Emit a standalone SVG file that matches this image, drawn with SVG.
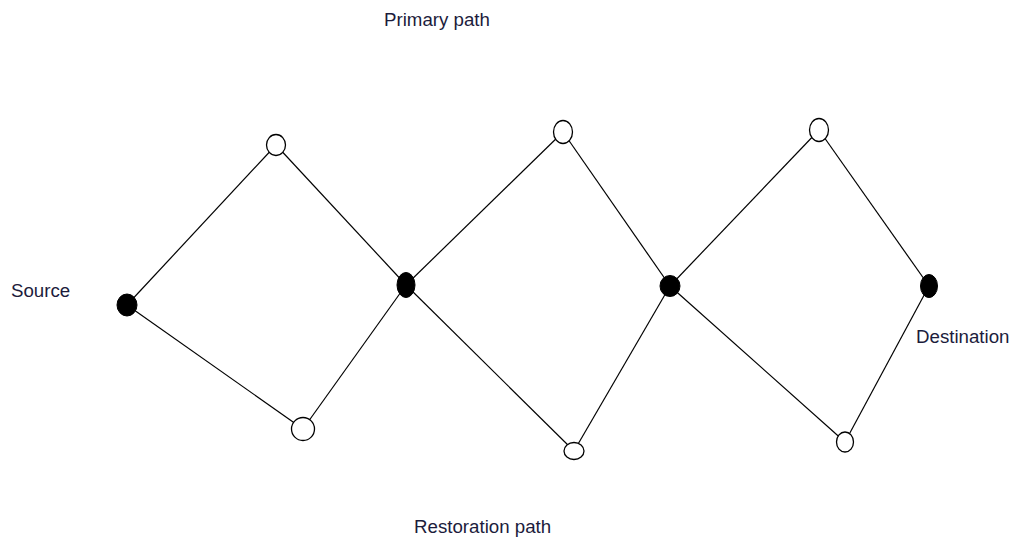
<svg xmlns="http://www.w3.org/2000/svg" width="1012" height="540" viewBox="0 0 1012 540">
  <style>
    .edge { stroke: #000; stroke-width: 1.2; fill: none; }
    .open { fill: #fff; stroke: #000; stroke-width: 1.3; }
    .solid { fill: #000; stroke: #000; stroke-width: 1; }
    .label { font-family: "Liberation Sans", Arial, sans-serif; font-size: 18.7px; fill: #1c1c3c; }
  </style>
  <rect width="1012" height="540" fill="#fff"/>

  <!-- connectors -->
  <g id="connectors">
    <line class="edge" x1="127" y1="305" x2="276" y2="145"/>
    <line class="edge" x1="276" y1="145" x2="406" y2="285"/>
    <line class="edge" x1="127" y1="305" x2="303" y2="429"/>
    <line class="edge" x1="303" y1="429" x2="406" y2="285"/>
    <line class="edge" x1="406" y1="285" x2="563" y2="132"/>
    <line class="edge" x1="563" y1="132" x2="670" y2="286"/>
    <line class="edge" x1="406" y1="285" x2="574" y2="451"/>
    <line class="edge" x1="574" y1="451" x2="670" y2="286"/>
    <line class="edge" x1="670" y1="286" x2="819" y2="130"/>
    <line class="edge" x1="819" y1="130" x2="929" y2="286"/>
    <line class="edge" x1="670" y1="286" x2="845" y2="442"/>
    <line class="edge" x1="845" y1="442" x2="929" y2="286"/>
  </g>

  <!-- nodes -->
  <g id="source"><ellipse class="solid" cx="127" cy="305" rx="10" ry="11"/></g>
  <g id="top1"><ellipse class="open" cx="276" cy="145" rx="9.5" ry="10.5"/></g>
  <g id="bottom1"><ellipse class="open" cx="303" cy="429" rx="11.5" ry="11.5"/></g>
  <g id="mid1"><ellipse class="solid" cx="406" cy="285" rx="9" ry="12.5"/></g>
  <g id="top2"><ellipse class="open" cx="563" cy="132" rx="9.5" ry="11.5"/></g>
  <g id="bottom2"><ellipse class="open" cx="574" cy="451" rx="10" ry="8.5"/></g>
  <g id="mid2"><ellipse class="solid" cx="670" cy="286" rx="10" ry="10.5"/></g>
  <g id="top3"><ellipse class="open" cx="819" cy="130" rx="9.5" ry="11.5"/></g>
  <g id="bottom3"><ellipse class="open" cx="845" cy="442" rx="8.5" ry="10"/></g>
  <g id="destination"><ellipse class="solid" cx="929" cy="286" rx="8.5" ry="11.5"/></g>

  <!-- labels -->
  <text class="label" x="384" y="26">Primary path</text>
  <text class="label" x="11" y="297">Source</text>
  <text class="label" x="916" y="343">Destination</text>
  <text class="label" x="414" y="533">Restoration path</text>
</svg>
